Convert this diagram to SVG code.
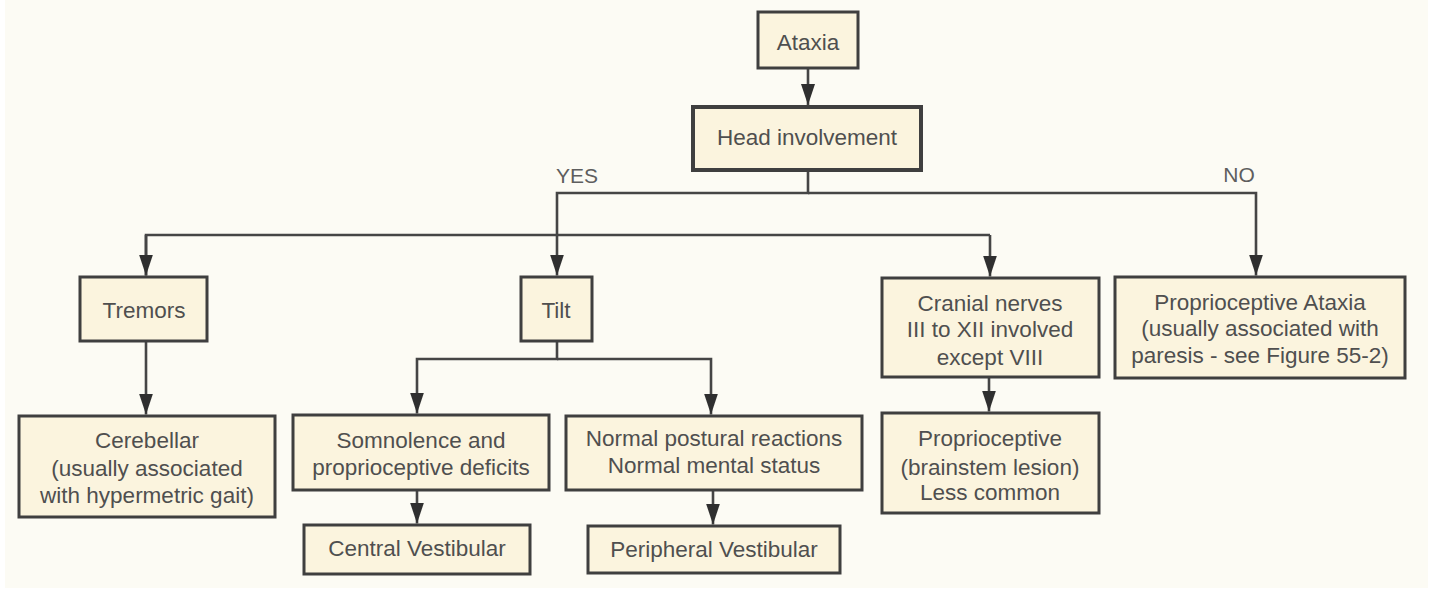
<svg xmlns="http://www.w3.org/2000/svg" width="1440" height="590" viewBox="0 0 1440 590">
<style>
.box{fill:#fbf4de;stroke:#3f3f3f;stroke-width:3}
.thick{stroke-width:4}
.t{font-family:"Liberation Sans",Arial,sans-serif;font-size:22.5px;fill:#4f4f4f;text-anchor:middle}
.lbl{font-family:"Liberation Sans",Arial,sans-serif;font-size:21px;fill:#5e5e5e;text-anchor:middle}
.c{fill:none;stroke:#454545;stroke-width:2.6}
</style>
<defs>
<marker id="ah" markerUnits="userSpaceOnUse" markerWidth="22" markerHeight="14" viewBox="0 0 22 14" refX="21" refY="7" orient="auto">
<path d="M0,0 L21,7 L0,14 Z" fill="#2f2f2f"/>
</marker>
</defs>
<rect width="1440" height="590" fill="#ffffff"/>
<rect x="5" y="0" width="1423" height="588" fill="#fcfbf4"/>
<g id="connectors">
<path class="c" d="M808 68 V105" marker-end="url(#ah)"/>
<path class="c" d="M808 170 V193 H557 V275.5" marker-end="url(#ah)"/>
<path class="c" d="M808 193 H1256 V275.5" marker-end="url(#ah)"/>
<path class="c" d="M146 275.5 V235 H990" />
<path class="c" d="M146 235 V275.5" marker-end="url(#ah)"/>
<path class="c" d="M990 235 V276.5" marker-end="url(#ah)"/>
<path class="c" d="M146 341 V414.5" marker-end="url(#ah)"/>
<path class="c" d="M557 341 V359 H417 V413.5" marker-end="url(#ah)"/>
<path class="c" d="M557 359 H711 V414.5" marker-end="url(#ah)"/>
<path class="c" d="M417 490 V523.5" marker-end="url(#ah)"/>
<path class="c" d="M713 490 V524.5" marker-end="url(#ah)"/>
<path class="c" d="M989 377 V411.5" marker-end="url(#ah)"/>
<text class="lbl" x="577" y="183">YES</text>
<text class="lbl" x="1239" y="182">NO</text>
</g>
<g id="ataxia">
<rect class="box" x="758" y="12" width="100" height="56"/>
<text class="t" x="808" y="50">Ataxia</text>
</g>
<g id="head">
<rect class="box thick" x="693" y="107" width="228" height="63"/>
<text class="t" x="807" y="145">Head involvement</text>
</g>
<g id="tremors">
<rect class="box" x="80" y="277" width="127" height="64"/>
<text class="t" x="144" y="318">Tremors</text>
</g>
<g id="tilt">
<rect class="box" x="521" y="277" width="71" height="64"/>
<text class="t" x="556" y="318">Tilt</text>
</g>
<g id="cranial">
<rect class="box" x="882" y="278" width="217" height="99"/>
<text class="t" x="990" y="311">Cranial nerves</text>
<text class="t" x="990" y="337">III to XII involved</text>
<text class="t" x="990" y="365">except VIII</text>
</g>
<g id="propataxia">
<rect class="box" x="1115" y="277" width="290" height="101"/>
<text class="t" x="1260" y="310">Proprioceptive Ataxia</text>
<text class="t" x="1260" y="336">(usually associated with</text>
<text class="t" x="1260" y="363">paresis - see Figure 55-2)</text>
</g>
<g id="cerebellar">
<rect class="box" x="19" y="416" width="256" height="101"/>
<text class="t" x="147" y="448">Cerebellar</text>
<text class="t" x="147" y="476">(usually associated</text>
<text class="t" x="147" y="503">with hypermetric gait)</text>
</g>
<g id="somnolence">
<rect class="box" x="293" y="415" width="256" height="75"/>
<text class="t" x="421" y="448">Somnolence and</text>
<text class="t" x="421" y="475">proprioceptive deficits</text>
</g>
<g id="normal">
<rect class="box" x="566" y="416" width="296" height="74"/>
<text class="t" x="714" y="446">Normal postural reactions</text>
<text class="t" x="714" y="473">Normal mental status</text>
</g>
<g id="brainstem">
<rect class="box" x="882" y="413" width="217" height="100"/>
<text class="t" x="990" y="446">Proprioceptive</text>
<text class="t" x="990" y="475">(brainstem lesion)</text>
<text class="t" x="990" y="500">Less common</text>
</g>
<g id="central">
<rect class="box" x="304" y="525" width="226" height="49"/>
<text class="t" x="417" y="556">Central Vestibular</text>
</g>
<g id="peripheral">
<rect class="box" x="588" y="526" width="252" height="47"/>
<text class="t" x="714" y="557">Peripheral Vestibular</text>
</g>
</svg>
